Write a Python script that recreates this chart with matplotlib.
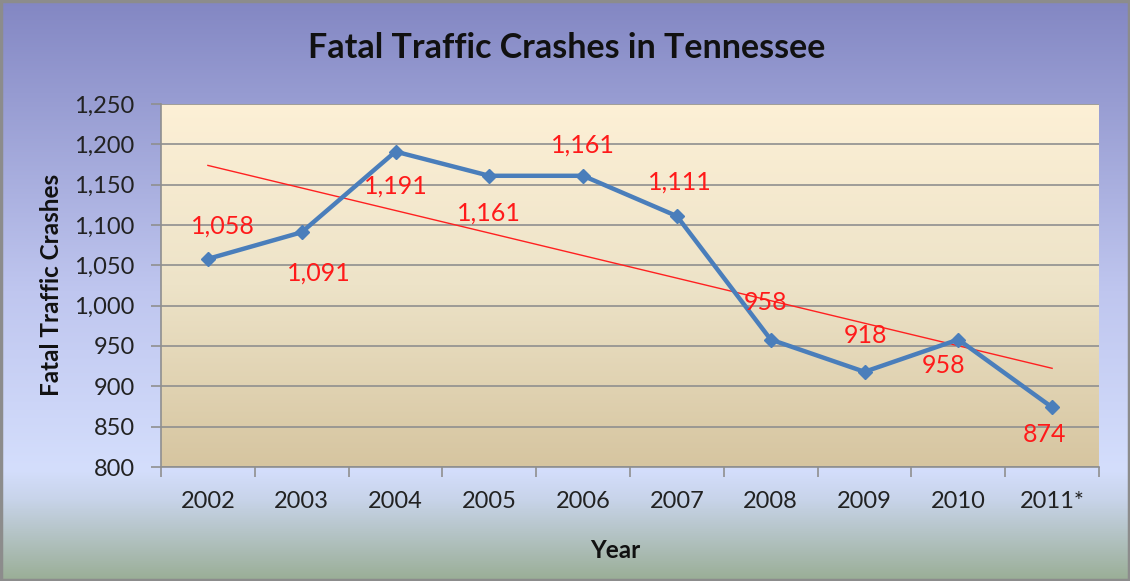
import numpy as np
import matplotlib
matplotlib.use("Agg")
import matplotlib.pyplot as plt
from matplotlib.colors import LinearSegmentedColormap

years = ["2002", "2003", "2004", "2005", "2006", "2007", "2008", "2009", "2010", "2011*"]
crashes = [1058, 1091, 1191, 1161, 1161, 1111, 958, 918, 958, 874]
labels = ["1,058", "1,091", "1,191", "1,161", "1,161", "1,111", "958", "918", "958", "874"]
# label offsets in pixels (dx, dy)
label_offsets = [(15, 33), (17, -41), (0, -34), (0, -37), (0, 31), (3, 34), (-5, 37), (1, 36), (-15, -26), (-8, -27)]
yticks = [800, 850, 900, 950, 1000, 1050, 1100, 1150, 1200, 1250]

plt.rcParams['font.family'] = ['Lato', 'DejaVu Sans']

W, H = 1130, 581
fig = plt.figure(figsize=(W / 100, H / 100), dpi=100)

# figure background gradient
bg = fig.add_axes([0, 0, 1, 1], zorder=-10)
bg_cmap = LinearSegmentedColormap.from_list("bg", [
    (0.0, "#8387c3"),
    (0.5, "#bfc6ef"),
    (0.81, "#d4defc"),
    (0.86, "#c8d4ea"),
    (1.0, "#9aae96"),
])
grad = np.linspace(0, 1, 256).reshape(-1, 1)
bg.imshow(grad, aspect="auto", cmap=bg_cmap, extent=[0, 1, 0, 1], origin="upper")
bg.set_axis_off()
# border
bg.add_patch(plt.Rectangle((0.001, 0.002), 0.998, 0.996, fill=False, edgecolor="#8c8c8c",
                           linewidth=2.5, transform=bg.transAxes))

ax = fig.add_axes([161 / W, 1 - 467 / H, (1099 - 161) / W, (467 - 104) / H])
x = np.arange(len(years))
pa_cmap = LinearSegmentedColormap.from_list("pa", ["#fdf0d6", "#ede3c8", "#d6c5a0"])
ax.imshow(grad, aspect="auto", cmap=pa_cmap, extent=[-0.5, len(years) - 0.5, 800, 1250],
          origin="upper", zorder=0)

ax.set_xlim(-0.5, len(years) - 0.5)
ax.set_ylim(800, 1250)
ax.set_yticks(yticks)
ax.set_yticklabels([f"{v:,}" for v in yticks])
ax.yaxis.grid(True, color="#8f8f8f", linewidth=1.2, zorder=1)
ax.set_axisbelow(False)

ax.set_xticks(x)
ax.set_xticklabels(years)
ax.set_xticks(np.arange(-0.5, len(years)), minor=True)
ax.tick_params(axis="x", which="major", length=0, pad=17, labelsize=17, colors="#222222")
ax.tick_params(axis="x", which="minor", length=7, width=1.2, color="#8f8f8f")
ax.tick_params(axis="y", length=7, width=1.2, color="#8f8f8f", labelsize=17, pad=12,
               labelcolor="#222222")

for s in ["top", "right"]:
    ax.spines[s].set_visible(False)
for s in ["left", "bottom"]:
    ax.spines[s].set_color("#8f8f8f")
    ax.spines[s].set_linewidth(1.2)

# trendline (linear fit)
coef = np.polyfit(x, crashes, 1)
ax.plot(x, np.polyval(coef, x), color="#ff2020", linewidth=1.0, zorder=3)

ax.plot(x, crashes, color="#4a7ebb", linewidth=3.2, marker="D", markersize=7,
        markerfacecolor="#4a7ebb", markeredgecolor="#4a7ebb", zorder=4)

for xi, yi, lab, (dx, dy) in zip(x, crashes, labels, label_offsets):
    ax.annotate(lab, (xi, yi), xytext=(dx, dy), textcoords="offset pixels",
                ha="center", va="center", color="#ff1a1a", fontsize=18, zorder=5)

fig.text(567 / W, 1 - 48 / H, "Fatal Traffic Crashes in Tennessee", ha="center", va="center",
         fontsize=24.5, fontweight="bold", color="#111111")
fig.text(52 / W, 1 - 285 / H, "Fatal Traffic Crashes", ha="center", va="center",
         rotation=90, fontsize=17.5, fontweight="bold", color="#111111")
fig.text(615 / W, 1 - 550 / H, "Year", ha="center", va="center",
         fontsize=17.5, fontweight="bold", color="#111111")

fig.savefig("out.png", dpi=100)
